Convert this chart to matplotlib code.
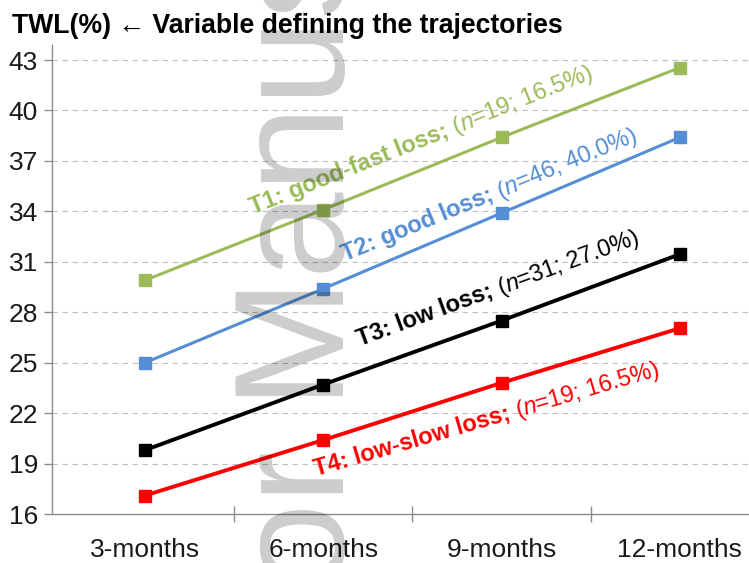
import matplotlib
matplotlib.use("Agg")
import matplotlib.pyplot as plt
from matplotlib.transforms import IdentityTransform
import numpy as np

# ---- data ----
categories = ["3-months", "6-months", "9-months", "12-months"]
t1_values = [29.9, 34.1, 38.4, 42.55]
t2_values = [25.0, 29.4, 33.9, 38.4]
t3_values = [19.8, 23.7, 27.5, 31.45]
t4_values = [17.1, 20.4, 23.8, 27.05]
y_ticks = [16, 19, 22, 25, 28, 31, 34, 37, 40, 43]

series = [
    ("T1: good-fast loss;", "=19; 16.5%)", t1_values, "#9BBB59", 2.2),
    ("T2: good loss;", "=46; 40.0%)", t2_values, "#558ED5", 2.2),
    ("T3: low loss;", "=31; 27.0%)", t3_values, "#000000", 2.8),
    ("T4: low-slow loss;", "=19; 16.5%)", t4_values, "#FF0000", 2.8),
]
# label anchor (x index, y value) and screen angle
label_pos = [(0.605, 33.85, 21.6), (1.12, 31.0, 22.3), (1.206, 25.99, 20.2), (0.959, 18.26, 16.2)]

FAM = ["Liberation Sans", "DejaVu Sans"]
plt.rcParams["font.family"] = FAM

W, H = 749, 563
fig = plt.figure(figsize=(W / 100, H / 100), dpi=100)
ax = fig.add_axes([52 / W, 1 - 514 / H, (769 - 52) / W, (514 - 45) / H])

x = np.arange(len(categories))
for bold, rest, vals, col, lw in series:
    ax.plot(x, vals, color=col, lw=lw, marker="s", markersize=9, zorder=3,
            solid_capstyle="butt")

ax.set_xlim(-0.522, 3.5)
ax.set_ylim(16, 43 + 15 / 16.81)
ax.set_yticks(y_ticks)
ax.set_yticklabels([str(v) for v in y_ticks])
ax.set_xticks(x)
ax.set_xticklabels(categories)
ax.set_xticks([0.5, 1.5, 2.5], minor=True)

for yv in y_ticks[1:]:
    ax.axhline(yv, color="#BEBEBE", lw=0.8, ls=(0, (5, 4)), zorder=1)

for s in ["top", "right"]:
    ax.spines[s].set_visible(False)
for s in ["left", "bottom"]:
    ax.spines[s].set_color("#8C8C8C")
    ax.spines[s].set_linewidth(1.0)

ax.tick_params(axis="y", which="major", direction="out", length=6, width=1,
               color="#8C8C8C", labelsize=19, labelcolor="#1a1a1a", pad=4)
ax.tick_params(axis="x", which="major", length=0, labelsize=19,
               labelcolor="#1a1a1a", pad=17)
ax.tick_params(axis="x", which="minor", direction="inout", length=12, width=1,
               color="#8C8C8C")

# title
fig.text(12 / W, 1 - 33 / H, "TWL(%) \u2190 Variable defining the trajectories",
         fontsize=19.2, fontweight="bold", va="baseline", ha="left",
         family=FAM, color="#000000")

# rotated labels composed of pieces
fig.canvas.draw()
renderer = fig.canvas.get_renderer()


def text_width(s, **kw):
    t = fig.text(0, 0, s, **kw)
    w = t.get_window_extent(renderer).width
    t.remove()
    return w


FS = 17
for (bold, rest, vals, col, lw), (lx, ly, ang) in zip(series, label_pos):
    px, py = ax.transData.transform((lx, ly))
    th = np.deg2rad(ang)
    pieces = [
        (bold, dict(fontweight="bold", fontstyle="normal")),
        (" ", dict(fontweight="bold", fontstyle="normal")),
        ("(", dict(fontweight="normal", fontstyle="normal")),
        ("n", dict(fontweight="normal", fontstyle="italic")),
        (rest, dict(fontweight="normal", fontstyle="normal")),
    ]
    off = 0.0
    for s, kw in pieces:
        if s == " ":
            w = text_width("x x", fontsize=FS, family=FAM, **kw) - text_width("xx", fontsize=FS, family=FAM, **kw)
            off += w
            continue
        fig.text(px + off * np.cos(th), py + off * np.sin(th), s, transform=IdentityTransform(),
                 fontsize=FS, family=FAM, color=col, rotation=ang, rotation_mode="anchor",
                 ha="left", va="baseline", zorder=5, **kw)
        off += text_width(s, fontsize=FS, family=FAM, **kw)

# watermark
fig.text(344 / W, 1 - 278 / H, "Author Manuscript", fontsize=112, family=FAM,
         color="black", alpha=0.2, rotation=90, rotation_mode="anchor",
         ha="center", va="baseline", zorder=10)

fig.savefig("out.png", dpi=100)
